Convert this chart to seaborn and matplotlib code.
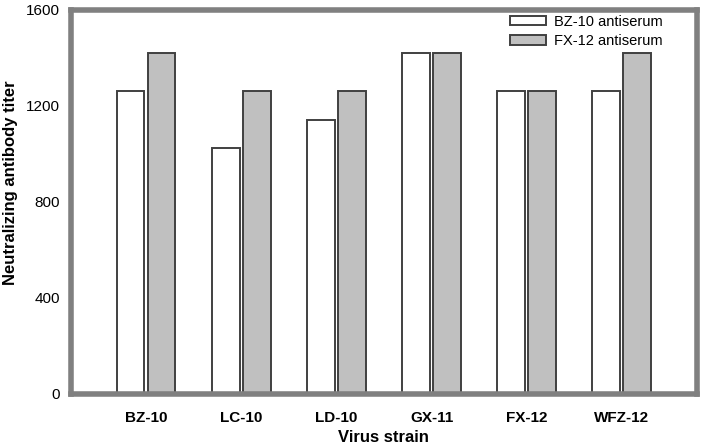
import matplotlib
matplotlib.use("Agg")
import matplotlib.pyplot as plt
import seaborn as sns
import pandas as pd

strains = ["BZ-10", "LC-10", "LD-10", "GX-11", "FX-12", "WFZ-12"]
bz10_antiserum = [1260, 1024, 1140, 1420, 1260, 1260]
fx12_antiserum = [1420, 1260, 1260, 1420, 1260, 1420]
series_names = ["BZ-10 antiserum", "FX-12 antiserum"]
y_ticks = [0, 400, 800, 1200, 1600]

df = pd.DataFrame({
    "strain": strains * 2,
    "titer": bz10_antiserum + fx12_antiserum,
    "serum": [series_names[0]] * len(strains) + [series_names[1]] * len(strains),
})

sns.set_style("white")
plt.rcParams["font.family"] = ["Liberation Sans", "DejaVu Sans"]
plt.rcParams["text.color"] = "black"
plt.rcParams["axes.labelcolor"] = "black"
plt.rcParams["xtick.labelcolor"] = "black"
plt.rcParams["ytick.labelcolor"] = "black"

fig = plt.figure(figsize=(7.06, 4.47), dpi=100)
ax = fig.add_axes([0.1006, 0.1186, 0.8864, 0.8594])

sns.barplot(data=df, x="strain", y="titer", hue="serum", order=strains,
            hue_order=series_names, palette=["white", "#c0c0c0"],
            width=0.65, gap=0.1, edgecolor="#404040", linewidth=1.4,
            saturation=1, ax=ax)

ax.set_xlim(-0.788, 5.788)
ax.set_ylim(0, 1600)
ax.set_yticks(y_ticks)
ax.set_yticklabels([str(v) for v in y_ticks], fontsize=11)
ax.tick_params(axis="y", direction="in", length=5, width=2, color="#808080",
               pad=8, labelcolor="black")
ax.tick_params(axis="x", length=0, pad=12, labelcolor="black")
for lab in ax.get_xticklabels():
    lab.set_fontweight("bold")
    lab.set_fontsize(11)

for s in ax.spines.values():
    s.set_visible(True)
    s.set_color("#808080")
    s.set_linewidth(4)

ax.set_xlabel("Virus strain", fontsize=12, fontweight="bold", labelpad=4, color="black")
ax.set_ylabel("Neutralizing antibody titer", fontsize=12, fontweight="bold", color="black")
ax.yaxis.set_label_coords(-0.085, 0.55)

leg = ax.legend(loc="upper right", frameon=False, fontsize=10.5,
                handlelength=2.5, handleheight=0.62, handletextpad=0.55,
                labelspacing=0.37, bbox_to_anchor=(0.946, 0.987),
                borderaxespad=0, borderpad=0)
for t in leg.get_texts():
    t.set_color("black")

fig.savefig("out.png", dpi=100)
